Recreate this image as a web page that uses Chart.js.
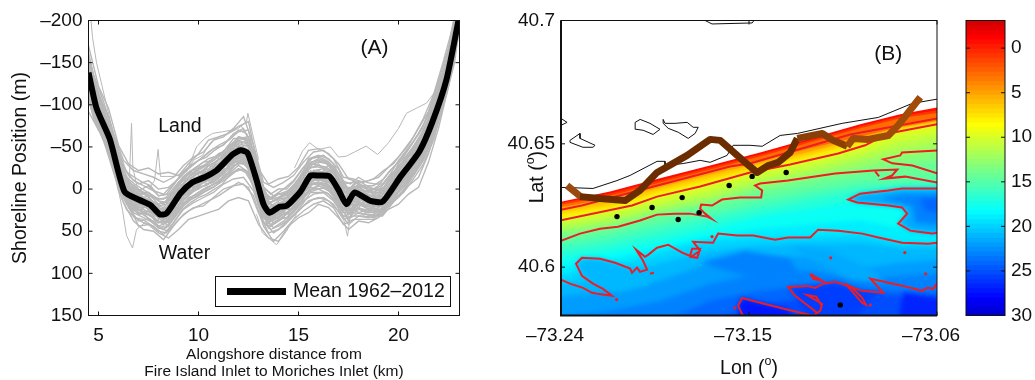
<!DOCTYPE html>
<html>
<head>
<meta charset="utf-8">
<title>Shoreline position and bathymetry</title>
<script src="https://cdn.jsdelivr.net/npm/chart.js@4/dist/chart.umd.min.js"></script>
<style>
  html, body { margin: 0; padding: 0; background: #fff; }
  canvas { position: absolute; top: 0; }
  #chartA { left: 0; }
  #chartB { left: 480px; }
  #chartC { left: 950px; }
</style>
</head>
<body>
<canvas id="chartA" width="480" height="380"></canvas>
<canvas id="chartB" width="490" height="380"></canvas>
<canvas id="chartC" width="85" height="380"></canvas>
<script>
// ---- panel A : shoreline position
const xTicksA = [5, 10, 15, 20]
const yTicksA = [-200, -150, -100, -50, 0, 50, 100, 150]

const meanX = [4.5,4.9,5.57,6.3,7.05,7.6,8.06,8.4,9.1,9.7,10.3,10.9,11.7,12.1,12.45,12.9,13.25,13.55,14.05,14.4,15.1,15.6,16,16.55,17,17.4,17.8,18.6,19.2,20.05,21.05,21.7,22.4,23]
const meanY = [-138,-96,-59,3,13,19,30,29,5,-8,-14,-22,-41,-46,-43,-11,18,28,21,20,3,-16,-16,-15,1,18,4,14,15,-13,-45,-80,-130,-200]

const greyXa = [4.5,5,5.5,6,6.5,7,7.5,8,8.5,9,9.5,10,10.5,11,11.5,12,12.5,13,13.5,14,14.5,15,15.5,16,16.5,17,17.5,18,18.5,19,19.5,20,20.5,21,21.5,22,22.5,23]
const greyLinesA = [
  [-170,-122,-96,-52,-30,-22,-25,-18,-20,-16,-30,-42,-58,-62,-66,-74,-80,-24,-6,-12,-15,-26,-46,-48,-42,-30,-12,-8,-10,-14,-26,-38,-52,-72,-92,-128,-168,-232],
  [-92,-70,-50,-14,18,44,42,52,58,48,36,32,28,24,14,10,14,42,58,62,44,34,28,18,22,34,48,38,40,34,24,18,6,-2,-32,-72,-122,-182],
  [-150,-108,-80,-36,-10,2,-4,8,6,-8,-18,-28,-36,-40,-50,-60,-62,-18,12,6,2,-12,-30,-36,-32,-18,0,-4,0,2,-14,-26,-42,-60,-82,-118,-154,-220],
  [-120,-84,-58,-22,10,28,30,38,40,24,14,8,0,-6,-14,-24,-18,16,44,38,28,18,4,0,6,20,34,24,28,26,14,2,-12,-30,-54,-92,-132,-196],
  [-142,-100,-70,-28,-2,8,12,18,14,0,-12,-20,-24,-34,-44,-54,-50,-12,22,14,10,-4,-24,-28,-22,-8,10,2,8,8,-4,-20,-34,-52,-74,-112,-148,-212],
  [-128,-90,-62,-18,8,22,22,30,34,14,4,-4,-12,-16,-26,-34,-28,4,36,30,22,12,-6,-8,-2,12,26,14,20,20,10,-6,-20,-38,-60,-98,-136,-200],
  [-158,-112,-86,-40,-16,-6,-10,0,-2,-12,-24,-34,-44,-52,-58,-68,-70,-14,18,10,6,-8,-36,-40,-36,-24,6,-2,4,-4,-20,-32,-48,-66,-88,-122,-160,-226],
  [-104,-76,-54,-10,22,38,36,46,50,36,26,20,14,8,0,-8,-2,28,52,48,36,26,14,10,14,26,42,32,34,30,20,10,-4,-14,-42,-82,-126,-188],
  [-136,-96,-66,-26,4,14,16,24,22,4,-6,-14,-22,-28,-40,-48,-44,-8,30,24,16,0,-18,-20,-18,-2,18,8,12,12,0,-14,-30,-46,-70,-108,-144,-208],
  [-146,-104,-72,-30,-6,6,4,12,10,-6,-14,-24,-30,-38,-46,-58,-54,-20,16,12,4,-10,-28,-32,-30,-12,4,0,6,6,-8,-22,-38,-56,-78,-114,-150,-214],
  [-114,-82,-56,-14,14,30,26,34,44,26,10,6,-2,-10,-18,-28,-20,12,40,34,26,14,2,-4,2,16,30,18,24,22,12,-2,-16,-34,-56,-94,-134,-198],
  [-130,-88,-64,-24,0,18,20,28,30,10,0,-8,-14,-20,-32,-40,-34,0,34,28,20,8,-10,-12,-8,6,22,12,16,18,6,-10,-24,-40,-64,-102,-140,-204]
]

const greyXb = [4.25,4.75,5.25,5.75,6.25,6.75,7.25,7.75,8.25,8.75,9.25,9.75,10.25,10.75,11.25,11.75,12.25,12.75,13.25,13.75,14.25,14.75,15.25,15.75,16.25,16.75,17.25,17.75,18.25,18.75,19.25,19.75,20.25,20.75,21.25,21.75,22.25,22.75,23.25]
const greyLinesB = [
  [-185,-136,-104,-66,-34,-22,-18,-14,-8,-14,-28,-38,-44,-58,-62,-72,-86,-52,-8,-2,-8,-16,-32,-44,-46,-36,-14,-12,-8,-12,-22,-30,-46,-62,-84,-112,-152,-196,-260],
  [-130,-84,-58,-20,16,38,48,50,60,44,30,22,20,10,0,-4,-6,8,44,62,50,36,26,18,14,22,42,36,36,36,26,14,4,-12,-30,-58,-100,-150,-220],
  [-170,-122,-90,-52,-20,-2,4,10,12,2,-14,-24,-32,-34,-44,-60,-60,-42,2,14,6,-4,-20,-30,-34,-22,-2,-2,2,4,-2,-20,-30,-50,-70,-96,-134,-182,-250],
  [-148,-100,-68,-30,2,22,28,34,42,28,14,2,-4,-8,-18,-28,-32,-14,28,40,32,22,8,-2,-4,6,24,22,24,26,18,6,-8,-24,-44,-72,-112,-160,-232],
  [-158,-108,-76,-44,-12,4,10,20,24,14,-4,-12,-18,-26,-36,-48,-50,-32,10,20,14,4,-10,-22,-24,-14,4,6,6,10,4,-10,-24,-42,-60,-88,-126,-174,-244],
  [-140,-94,-66,-26,6,28,34,40,48,36,20,10,4,-2,-12,-20,-24,-4,34,46,38,28,14,6,4,14,32,28,30,30,22,10,-2,-18,-38,-66,-106,-156,-226],
  [-176,-128,-96,-58,-26,-10,-4,2,6,-6,-20,-30,-38,-48,-52,-66,-72,-46,-2,8,0,-10,-26,-38,-40,-30,-6,-8,-4,-4,-12,-26,-38,-56,-76,-104,-142,-188,-254],
  [-152,-104,-72,-36,-4,14,20,28,36,22,6,-4,-10,-14,-26,-36,-38,-22,20,32,24,14,0,-10,-10,0,16,14,18,20,14,0,-14,-30,-50,-78,-118,-166,-236],
  [-164,-116,-82,-42,-14,8,12,18,26,10,-2,-16,-20,-22,-32,-52,-46,-30,12,22,16,8,-8,-18,-20,-10,8,4,10,12,6,-8,-20,-40,-58,-84,-124,-172,-242],
  [-122,-88,-62,-24,10,32,40,44,54,40,24,16,10,4,-6,-12,-14,2,38,52,44,32,20,12,10,18,36,32,32,34,24,12,2,-16,-34,-62,-102,-152,-222],
  [-144,-98,-70,-32,-2,18,24,30,32,20,8,0,-8,-12,-22,-32,-34,-18,24,28,26,16,4,-6,-6,2,20,18,20,22,16,2,-10,-28,-46,-74,-116,-164,-234]
]

const greyXc = [4.4,4.8,5.2,5.6,6,6.4,6.8,7.2,7.6,8,8.4,8.8,9.2,9.6,10,10.4,10.8,11.2,11.6,12,12.4,12.8,13.2,13.6,14,14.4,14.8,15.2,15.6,16,16.4,16.8,17.2,17.6,18,18.4,18.8,19.2,19.6,20,20.4,20.8,21.2,21.6,22,22.4,22.8,23.2]
const greyLinesC = [
  [-156,-118,-92,-62,-34,-8,-4,6,8,18,14,4,-10,-16,-22,-28,-30,-40,-50,-60,-58,-30,4,12,10,6,-2,-14,-30,-28,-26,-18,-2,2,-6,-2,0,0,-10,-26,-38,-52,-62,-88,-116,-140,-182,-245],
  [-132,-96,-68,-48,-12,12,20,28,30,44,40,28,14,4,0,-6,-10,-18,-32,-38,-30,-10,28,38,32,28,20,8,-6,-8,-6,2,24,26,16,22,26,26,12,-4,-16,-28,-40,-66,-96,-122,-160,-226],
  [-150,-112,-84,-52,-26,-2,4,18,16,26,36,10,8,-12,-6,-20,-16,-34,-36,-52,-48,-14,12,32,16,24,6,0,-22,-12,-20,-4,8,18,2,16,10,20,-2,-8,-30,-34,-54,-72,-110,-126,-176,-238],
  [-140,-100,-74,-60,-16,6,14,12,26,24,34,20,-2,-2,-16,-10,-26,-24,-44,-42,-38,-26,24,22,26,16,14,-6,-12,-20,-10,-12,16,10,10,6,18,10,8,-18,-20,-42,-46,-80,-100,-134,-164,-232],
  [-162,-124,-96,-70,-40,-14,-6,0,6,14,16,0,-14,-22,-24,-30,-38,-44,-52,-62,-60,-36,2,10,6,6,-4,-20,-32,-34,-30,-22,-4,0,-10,-4,0,2,-12,-30,-40,-52,-66,-92,-120,-146,-186,-250],
  [-126,-88,-64,-42,-4,18,26,30,36,46,46,30,18,10,4,-2,-6,-12,-22,-32,-28,-6,32,42,36,34,24,12,-2,0,-2,6,28,28,22,26,28,30,16,2,-10,-24,-36,-62,-90,-116,-156,-220],
  [-148,-106,-84,-58,-28,-4,8,10,14,26,24,12,-2,-10,-14,-20,-24,-34,-42,-50,-46,-24,12,24,18,14,6,-8,-20,-22,-18,-12,8,10,2,6,10,12,-2,-18,-28,-42,-52,-80,-108,-134,-172,-238],
  [-138,-102,-76,-50,-18,8,14,20,24,34,32,18,8,-2,-8,-12,-18,-24,-36,-42,-40,-16,22,32,24,24,14,2,-12,-12,-12,-4,16,18,10,14,18,18,6,-10,-22,-34,-48,-72,-102,-126,-166,-230],
  [-120,-84,-60,-38,2,24,34,36,42,50,52,38,24,16,10,6,0,-6,-18,-24,-22,0,38,48,44,38,30,18,4,4,4,12,32,34,28,30,32,32,20,8,-4,-18,-34,-58,-86,-112,-150,-216],
  [-172,-128,-102,-78,-46,-20,-14,-8,-4,8,6,-6,-20,-28,-34,-38,-46,-52,-60,-70,-66,-42,-4,6,0,0,-10,-24,-36,-38,-34,-26,-10,-6,-14,-8,-6,-6,-18,-34,-46,-58,-72,-98,-126,-150,-192,-256],
  [-154,-114,-90,-64,-30,-6,0,4,12,20,18,6,-6,-18,-18,-26,-32,-38,-50,-56,-54,-30,8,16,12,10,0,-12,-26,-26,-24,-18,2,4,-4,0,4,4,-8,-22,-36,-46,-60,-86,-114,-140,-178,-242],
  [-134,-94,-70,-46,-10,14,22,26,32,40,38,26,12,6,-2,-4,-12,-18,-30,-36,-34,-12,28,36,30,30,20,6,-6,-6,-4,2,22,24,16,20,24,24,12,-4,-14,-30,-42,-66,-94,-120,-160,-224]
]

const greyXd = [4.5,4.75,5,5.25,5.5,5.75,6,6.25,6.5,6.75,7,7.25,7.5,7.75,8,8.25,8.5,8.75,9,9.25,9.5,9.75,10,10.25,10.5,10.75,11,11.25,11.5,11.75,12,12.25,12.5,12.75,13,13.25,13.5,13.75,14,14.25,14.5,14.75,15,15.25,15.5,15.75,16,16.25,16.5,16.75,17,17.25,17.5,17.75,18,18.25,18.5,18.75,19,19.25,19.5,19.75,20,20.25,20.5,20.75,21,21.25,21.5,21.75,22,22.25,22.5,22.75,23]
const greyLinesD = [
  [-128,-100,-86,-70,-52,-34,-12,2,14,18,24,24,30,32,40,36,38,26,18,8,6,-2,-2,-8,-6,-14,-12,-24,-24,-36,-30,-38,-26,-16,8,24,40,34,34,26,30,18,14,4,-4,-6,-4,-10,-2,0,14,18,30,18,22,16,26,22,28,18,16,4,0,-10,-14,-28,-32,-46,-56,-74,-96,-114,-128,-160,-196],
  [-146,-118,-104,-82,-70,-50,-30,-12,-4,2,4,10,8,16,20,22,14,10,-4,-6,-12,-14,-20,-20,-28,-26,-36,-36,-48,-48,-58,-52,-52,-34,-18,6,18,14,12,8,8,0,-8,-12,-26,-26,-30,-24,-28,-18,-10,0,6,-2,-4,2,2,6,4,0,-10,-14,-24,-26,-38,-44,-58,-64,-76,-94,-114,-130,-150,-180,-214],
  [-138,-104,-96,-72,-66,-38,-24,0,2,12,8,22,14,30,26,38,22,24,2,8,-8,0,-16,-8,-22,-14,-30,-24,-42,-34,-52,-40,-46,-20,-12,20,22,34,16,28,12,18,-2,2,-20,-10,-22,-10,-22,-2,-4,16,10,14,2,16,8,22,10,16,-2,2,-18,-12,-34,-30,-52,-48,-72,-78,-112,-116,-146,-164,-210],
  [-132,-112,-88,-80,-58,-46,-16,-8,10,4,18,12,26,18,36,26,34,12,14,-4,4,-12,-4,-20,-10,-26,-16,-36,-28,-46,-38,-50,-34,-30,2,10,34,20,28,14,24,4,10,-10,-8,-22,-10,-22,-8,-14,8,4,22,2,14,4,20,10,22,4,10,-10,-6,-24,-20,-42,-38,-62,-60,-90,-98,-128,-134,-176,-200],
  [-150,-124,-108,-90,-74,-56,-34,-16,-8,-4,0,4,4,10,14,18,10,4,-8,-12,-18,-20,-26,-28,-32,-36,-42,-44,-52,-54,-62,-60,-58,-40,-22,-2,12,10,6,6,2,-4,-12,-18,-30,-32,-34,-32,-32,-24,-14,-4,2,-6,-8,-2,-2,0,-2,-6,-14,-20,-28,-32,-42,-48,-60,-70,-80,-98,-118,-136,-154,-184,-218],
  [-120,-94,-80,-64,-50,-30,-8,8,18,24,30,28,36,38,46,44,44,34,24,16,14,8,4,0,-2,-6,-8,-16,-20,-28,-30,-30,-24,-10,14,30,46,42,38,34,34,26,20,12,2,0,0,-2,0,8,18,26,38,24,28,26,32,30,32,26,20,12,4,-2,-10,-20,-30,-40,-50,-68,-90,-108,-124,-156,-190],
  [-142,-110,-98,-78,-64,-44,-26,-6,0,6,10,14,16,20,28,26,24,14,2,-2,-6,-10,-14,-18,-22,-24,-30,-34,-40,-46,-50,-48,-44,-28,-10,10,24,22,18,16,14,6,-2,-8,-18,-20,-20,-20,-20,-12,-2,6,12,4,2,6,10,12,10,6,-2,-8,-16,-22,-30,-40,-50,-58,-70,-88,-108,-126,-144,-174,-208],
  [-126,-102,-84,-68,-56,-36,-14,4,12,14,20,20,24,30,34,34,32,24,12,8,2,0,-6,-10,-12,-16,-18,-26,-30,-36,-40,-40,-36,-20,2,18,36,30,26,24,24,14,8,0,-8,-10,-12,-10,-8,-4,8,14,22,12,12,14,18,20,20,14,8,-2,-8,-14,-22,-32,-40,-50,-62,-80,-102,-118,-136,-166,-202]
]

// odd single years that stick out of the band
const outlierX = [
  [4.55,4.7,4.9,5.2,5.6,6,6.5],
  [6.3,6.55,6.65,6.72,7,7.5],
  [5.9,6.2,6.4,6.7,6.9,7.3,7.8],
  [7.5,7.8,7.98,8.1,8.4,8.8,9.3,9.8,10.2,10.6,11,11.5,12,12.4,12.47,12.7,13],
  [9.4,9.9,10.3,10.7,11.2,11.7,12.1,12.5],
  [14.8,15.2,15.55,16,16.6,17,17.38,17.8,18.38,18.96,19.5,20,20.4,20.9,21.4,21.9,22.4],
  [12.9,13.2,13.6,13.9,14.4,14.9],
  [17,17.25,17.45,17.6,18]
]
const outlierY = [
  [-220,-180,-150,-120,-80,-40,-5],
  [5,-15,-78,-25,5,15],
  [-10,25,55,70,48,40,45],
  [0,-10,-47,-15,-15,-15,-20,-35,-40,-55,-62,-66,-72,-80,-90,-66,-35],
  [-20,-50,-60,-66,-68,-70,-76,-62],
  [-25,-45,-55,-47,-50,-38,-39,-44,-51,-41,-55,-72,-90,-96,-102,-118,-138],
  [30,52,60,66,50,30],
  [22,35,56,30,22]
]

// ---- panel B : bathymetry map
const xTicksB = [-73.24, -73.15, -73.06]
const yTicksB = [40.6, 40.65, 40.7]

// the end columns sit just outside the frame so the soft edges stay hidden
const isobathLons = [-73.246,-73.2165,-73.1926,-73.1686,-73.1447,-73.1207,-73.0968,-73.0776,-73.054]
const isobathFloor = 40.55
const isobathDepths = [-1,1,3,5,6,8,10,11,12,13,14,15,16,17,18,19,20,21,22,23,24,25]
const isobathLats = [
  [40.6254,40.6307,40.6360,40.6412,40.6465,40.6522,40.6579,40.6620,40.6656],
  [40.6250,40.6299,40.6351,40.6404,40.6457,40.6514,40.6571,40.6612,40.6644],
  [40.6244,40.6290,40.6343,40.6396,40.6449,40.6506,40.6563,40.6604,40.6632],
  [40.6234,40.6280,40.6331,40.6388,40.6431,40.6482,40.6530,40.6567,40.6603],
  [40.6225,40.6270,40.6323,40.6376,40.6421,40.6469,40.6522,40.6563,40.6599],
  [40.6213,40.6250,40.6311,40.6360,40.6409,40.6457,40.6510,40.6559,40.6591],
  [40.6193,40.6229,40.6290,40.6339,40.6392,40.6437,40.6490,40.6551,40.6579],
  [40.6172,40.6209,40.6262,40.6311,40.6368,40.6412,40.6461,40.6514,40.6546],
  [40.6152,40.6189,40.6242,40.6286,40.6347,40.6388,40.6437,40.6481,40.6514],
  [40.6136,40.6172,40.6225,40.6266,40.6327,40.6368,40.6408,40.6449,40.6481],
  [40.6120,40.6160,40.6213,40.6254,40.6311,40.6351,40.6384,40.6412,40.6441],
  [40.6103,40.6144,40.6197,40.6237,40.6286,40.6327,40.6359,40.6368,40.6384],
  [40.6083,40.6124,40.6172,40.6213,40.6262,40.6303,40.6335,40.6339,40.6351],
  [40.6059,40.6095,40.6140,40.6189,40.6233,40.6274,40.6311,40.6327,40.6335],
  [40.6026,40.6067,40.6107,40.6156,40.6205,40.6237,40.6270,40.6270,40.6270],
  [40.5994,40.6034,40.6079,40.6124,40.6156,40.6173,40.6189,40.6156,40.6148],
  [40.5961,40.6002,40.6059,40.6107,40.6120,40.6124,40.6136,40.6099,40.6099],
  [40.5924,40.5965,40.6018,40.6067,40.6087,40.6095,40.6099,40.6079,40.6079],
  [40.5876,40.5904,40.5945,40.6018,40.6034,40.6046,40.5994,40.6018,40.6034],
  [40.5790,40.5823,40.5863,40.5932,40.5977,40.5985,40.5945,40.5965,40.5977],
  [40.5741,40.5741,40.5774,40.5863,40.5904,40.5924,40.5904,40.5904,40.5904],
  [40.5701,40.5701,40.5701,40.5782,40.5851,40.5876,40.5896,40.5884,40.5863]
]

// closed areas that do not fit the isobath layers: depth, then outline
const patchDepths = [21.5,23,24,21,21.3,23,26.5,25.5,27]
const patchOutlines = [
  [[-73.05,40.6319],[-73.0767,40.6319],[-73.0833,40.6311],[-73.0968,40.6298],[-73.1025,40.6274],[-73.0982,40.6262],[-73.0833,40.6250],[-73.0767,40.6242],[-73.0743,40.6217],[-73.0776,40.6185],[-73.0786,40.6177],[-73.0728,40.6148],[-73.069,40.6144],[-73.0623,40.6136],[-73.05,40.6140]],
  [[-73.0871,40.6278],[-73.0752,40.6294],[-73.05,40.6294],[-73.05,40.6165],[-73.0704,40.6181],[-73.0718,40.6250]],
  [[-73.0680,40.6278],[-73.05,40.6282],[-73.05,40.6209],[-73.0656,40.6229]],
  [[-73.23,40.5965],[-73.2314,40.5990],[-73.2328,40.6014],[-73.23,40.6038],[-73.2213,40.6034],[-73.2141,40.6018],[-73.2069,40.5994],[-73.1988,40.5990],[-73.1974,40.5930],[-73.2117,40.5900],[-73.2199,40.5912]],
  [[-73.1303,40.6087],[-73.1112,40.6067],[-73.0919,40.5994],[-73.0847,40.5937],[-73.1016,40.5953],[-73.1207,40.6034]],
  [[-73.1734,40.6018],[-73.1519,40.6067],[-73.1303,40.6034],[-73.1255,40.5965],[-73.1447,40.5945]],
  [[-73.0762,40.5896],[-73.05,40.5863],[-73.05,40.57],[-73.08,40.57]],
  [[-73.1279,40.5884],[-73.1313,40.5920],[-73.1222,40.5924],[-73.1145,40.5933],[-73.1087,40.5941],[-73.0958,40.5904],[-73.0857,40.5896],[-73.0919,40.5875],[-73.0958,40.5830],[-73.1016,40.57],[-73.1159,40.57]],
  [[-73.1529,40.57],[-73.1552,40.5843],[-73.1533,40.5875],[-73.1423,40.5851],[-73.1313,40.5827],[-73.1193,40.57]]
]

// red contour lines
const contourLines = [
  [[-73.24,40.6233],[-73.23,40.6250],[-73.1974,40.6323],[-73.1591,40.6408],[-73.1495,40.6420],[-73.1016,40.6538],[-73.06,40.6603]],
  [[-73.24,40.6190],[-73.206,40.6250],[-73.194,40.6286],[-73.1734,40.6327],[-73.1495,40.6384],[-73.1303,40.6416],[-73.1073,40.6461],[-73.0944,40.6494],[-73.0833,40.6542],[-73.06,40.6579]],
  [[-73.24,40.6107],[-73.2309,40.6136],[-73.2213,40.6156],[-73.2127,40.6164],[-73.2022,40.6189],[-73.194,40.6213],[-73.1854,40.6217],[-73.1782,40.6217],[-73.17,40.6205],[-73.1681,40.6197],[-73.171,40.6217],[-73.1734,40.6237],[-73.1729,40.6254],[-73.1677,40.6250],[-73.1629,40.6274],[-73.1543,40.6282],[-73.1442,40.6282],[-73.1437,40.6311],[-73.1471,40.6331],[-73.1447,40.6339],[-73.1313,40.6351],[-73.1087,40.6380],[-73.0905,40.6392],[-73.079,40.6396],[-73.0815,40.6372],[-73.0853,40.6359],[-73.0752,40.6367],[-73.06,40.6343]],
  [[-73.0896,40.6388],[-73.0877,40.6368]],
  [[-73.06,40.6473],[-73.0767,40.6465],[-73.0776,40.6453],[-73.0857,40.6437],[-73.0814,40.6421],[-73.0718,40.6412],[-73.06,40.6381]],
  [[-73.06,40.6319],[-73.0767,40.6319],[-73.0833,40.6311],[-73.0968,40.6298],[-73.1025,40.6274],[-73.0982,40.6262],[-73.0833,40.6250],[-73.0767,40.6242],[-73.0743,40.6217],[-73.0776,40.6185],[-73.0786,40.6177],[-73.0728,40.6148],[-73.069,40.6144],[-73.0623,40.6136],[-73.06,40.6140]],
  [[-73.24,40.5949],[-73.2357,40.5933],[-73.2295,40.5916],[-73.2251,40.5896],[-73.2227,40.5892],[-73.2156,40.5884],[-73.2199,40.5912],[-73.2247,40.5933],[-73.23,40.5965],[-73.2314,40.5990],[-73.2328,40.6014],[-73.23,40.6038],[-73.2213,40.6034],[-73.2141,40.6018],[-73.2069,40.5994],[-73.206,40.5977],[-73.2036,40.5998],[-73.2022,40.5981],[-73.1988,40.5990],[-73.2007,40.6026],[-73.2041,40.6071],[-73.1998,40.6042],[-73.1983,40.6050],[-73.194,40.6079],[-73.1887,40.6091],[-73.182,40.6059],[-73.1782,40.6046],[-73.1772,40.6075],[-73.1734,40.6075],[-73.1748,40.6038],[-73.1777,40.6042],[-73.1734,40.6067],[-73.1767,40.6103],[-73.1672,40.6099],[-73.1648,40.6136],[-73.1557,40.6128],[-73.148,40.6128],[-73.1375,40.6111],[-73.1313,40.6120],[-73.1207,40.6120],[-73.1169,40.6152],[-73.1073,40.6148],[-73.0958,40.6136],[-73.0881,40.6120],[-73.0767,40.6099],[-73.0642,40.6095],[-73.06,40.6099]],
  [[-73.1529,40.5803],[-73.1552,40.5843],[-73.1533,40.5875],[-73.1423,40.5851],[-73.1313,40.5827],[-73.1193,40.5803],[-73.1159,40.5823],[-73.115,40.5851],[-73.1222,40.5887],[-73.1178,40.5880],[-73.115,40.5840]],
  [[-73.1174,40.5815],[-73.1279,40.5884],[-73.1313,40.5920],[-73.1222,40.5924],[-73.1183,40.5916],[-73.1145,40.5933],[-73.1087,40.5941],[-73.1029,40.5925],[-73.0958,40.5904],[-73.0857,40.5896],[-73.0919,40.5953],[-73.0767,40.5925],[-73.0671,40.5904],[-73.0647,40.5916],[-73.0618,40.5912],[-73.06,40.5933]],
  [[-73.1039,40.5933],[-73.0958,40.5855],[-73.094,40.5847],[-73.0958,40.5876],[-73.1006,40.5916],[-73.1039,40.5933]],
  [[-73.1207,40.5973],[-73.115,40.5945],[-73.1193,40.5953],[-73.1207,40.5973]],
  [[-73.1974,40.5973],[-73.1955,40.5977]]
]
const contourSpots = [[-73.2134,40.5868],[-73.1677,40.6124],[-73.1568,40.5835],[-73.1109,40.6038],[-73.0754,40.6059],[-73.0654,40.5973],[-73.0919,40.5847]]

// black shoreline and islands
const shoreLines = [
  [[-73.24,40.6323],[-73.2371,40.6323],[-73.2247,40.6319],[-73.2132,40.6351],[-73.2069,40.6372],[-73.194,40.6429],[-73.1902,40.6429],[-73.1902,40.6412],[-73.1815,40.6420],[-73.1734,40.6433],[-73.1686,40.6425],[-73.1605,40.6453],[-73.1576,40.6494],[-73.1495,40.6494],[-73.1437,40.6490],[-73.1351,40.6534],[-73.1269,40.6542],[-73.1054,40.6583],[-73.0881,40.6607],[-73.0718,40.6664],[-73.06,40.6681]],
  [[-73.2045,40.6587],[-73.2021,40.6599],[-73.1974,40.6583],[-73.1926,40.6559],[-73.1959,40.6538],[-73.2007,40.6555],[-73.2041,40.6559],[-73.2045,40.6587]],
  [[-73.1911,40.6599],[-73.1902,40.6583],[-73.1854,40.6583],[-73.1796,40.6587],[-73.1767,40.6567],[-73.1743,40.6567],[-73.1758,40.6542],[-73.1791,40.6522],[-73.1839,40.6547],[-73.1887,40.6563],[-73.1911,40.6583],[-73.1911,40.6599]],
  [[-73.2357,40.6514],[-73.2309,40.6542],[-73.2309,40.6522],[-73.2237,40.6494],[-73.2247,40.6486],[-73.2295,40.6486],[-73.2357,40.6506],[-73.2357,40.6514]],
  [[-73.24,40.6603],[-73.2371,40.6587],[-73.24,40.6575]],
  [[-73.171,40.7],[-73.1677,40.6986],[-73.1485,40.699],[-73.1476,40.7]]
]

// brown mean shoreline, darker to the west
const brownLines = [
  [[-73.2371,40.6331],[-73.23,40.6282]],
  [[-73.2309,40.6286],[-73.2213,40.6278],[-73.2093,40.6270],[-73.2022,40.6311],[-73.194,40.6384],[-73.1796,40.6453],[-73.1686,40.6518],[-73.1638,40.6514],[-73.1495,40.6408],[-73.1461,40.6384],[-73.1408,40.6412],[-73.136,40.6425],[-73.1303,40.6465],[-73.1269,40.6522]],
  [[-73.1269,40.6522],[-73.1149,40.6542],[-73.1097,40.6514],[-73.103,40.649]],
  [[-73.103,40.649],[-73.1001,40.6522],[-73.0929,40.6518],[-73.0833,40.6534],[-73.0786,40.6575],[-73.068,40.6689]]
]
const brownColors = ['#984a10', '#6b2d00', '#8a3f06', '#a04c08']

const stationPoints = [[-73.2132,40.6205],[-73.1964,40.6242],[-73.182,40.6282],[-73.1595,40.6331],[-73.1485,40.6368],[-73.1322,40.6384],[-73.1839,40.6193],[-73.1739,40.6221],[-73.1063,40.5847]]

// ---- colour bar
const depthTop = -3.1
const depthBottom = 30
const depthLevels = 64
const jetAtTop = 0.915
const jetAtBottom = 0.08
const colorbarTicks = [0, 5, 10, 15, 20, 25, 30]

const FONT = 'Liberation Sans, Arial, sans-serif'

function jetColor(t) {
  const c = v => Math.round(255 * Math.max(0, Math.min(1, v)))
  return `rgb(${c(1.5 - Math.abs(4 * t - 3))},${c(1.5 - Math.abs(4 * t - 2))},${c(1.5 - Math.abs(4 * t - 1))})`
}
// level 0 is the shallow end of the bar
function levelColor(i) {
  return jetColor(jetAtTop - (jetAtTop - jetAtBottom) * i / (depthLevels - 1))
}
function depthColor(d) {
  const i = Math.floor((d - depthTop) / (depthBottom - depthTop) * depthLevels)
  return levelColor(Math.max(0, Math.min(depthLevels - 1, i)))
}

const tickLabel = v => String(v).replace('-', '\u2013')
const fixedTicks = values => scale => { scale.ticks = values.map(v => ({ value: v })) }

function frame(chart, leftWidth) {
  const { ctx, chartArea: a, scales } = chart
  ctx.save()
  ctx.strokeStyle = '#111'
  ctx.lineWidth = 1
  ctx.beginPath()
  for (const id in scales) {
    const s = scales[id]
    if (s.options.display === false) continue
    s.ticks.forEach(t => {
      const p = s.getPixelForValue(t.value)
      if (s.isHorizontal()) {
        ctx.moveTo(p, a.bottom); ctx.lineTo(p, a.bottom - 4)
        ctx.moveTo(p, a.top); ctx.lineTo(p, a.top + 4)
      } else {
        ctx.moveTo(a.left, p); ctx.lineTo(a.left + 4, p)
        ctx.moveTo(a.right, p); ctx.lineTo(a.right - 4, p)
      }
    })
  }
  ctx.stroke()
  ctx.strokeRect(a.left, a.top, a.right - a.left, a.bottom - a.top)
  if (leftWidth > 1) {
    ctx.lineWidth = leftWidth
    ctx.beginPath()
    ctx.moveTo(a.left, a.top); ctx.lineTo(a.left, a.bottom); ctx.lineTo(a.right, a.bottom)
    ctx.stroke()
  }
  ctx.restore()
}

function note(ctx, text, x, y, size) {
  ctx.save()
  ctx.font = `${size}px ${FONT}`
  ctx.fillStyle = '#111'
  ctx.textAlign = 'center'
  ctx.textBaseline = 'middle'
  ctx.fillText(text, x, y)
  ctx.restore()
}

// axis title with the raised "o" of degrees
function degreeTitle(ctx, word, x, y, rotation) {
  ctx.save()
  ctx.translate(x, y)
  ctx.rotate(rotation)
  ctx.fillStyle = '#111'
  ctx.textBaseline = 'alphabetic'
  ctx.textAlign = 'left'
  ctx.font = `19.5px ${FONT}`
  const head = word + ' ('
  const w1 = ctx.measureText(head).width
  const w3 = ctx.measureText(')').width
  ctx.font = `12.5px ${FONT}`
  const w2 = ctx.measureText('o').width
  let cx = -(w1 + w2 + w3) / 2
  ctx.font = `19.5px ${FONT}`
  ctx.fillText(head, cx, 7)
  ctx.fillText(')', cx + w1 + w2, 7)
  ctx.font = `12.5px ${FONT}`
  ctx.fillText('o', cx + w1, -2)
  ctx.restore()
}

// ---- panel A
const datasetsA = []
const grey = { showLine: true, borderColor: '#b8b8b8', borderWidth: 1.4, pointRadius: 0, tension: 0 }
const addGrey = (lines, xs) => lines.forEach(ys => datasetsA.push({ ...grey, data: ys.map((y, i) => ({ x: xs[i], y })), order: 3 }))
addGrey(greyLinesA, greyXa)
addGrey(greyLinesB, greyXb)
addGrey(greyLinesC, greyXc)
addGrey(greyLinesD, greyXd)
outlierY.forEach((ys, k) => datasetsA.push({ ...grey, borderWidth: 1, data: ys.map((y, i) => ({ x: outlierX[k][i], y })), order: 3 }))
datasetsA.push({
  showLine: true, borderColor: '#000', borderWidth: 6, pointRadius: 0, tension: 0.2,
  borderJoinStyle: 'round', order: 1,
  data: meanY.map((y, i) => ({ x: meanX[i], y }))
})

new Chart(document.getElementById('chartA'), {
  type: 'scatter',
  data: { datasets: datasetsA },
  options: {
    responsive: false,
    animation: false,
    events: [],
    layout: { autoPadding: false, padding: { top: 20.5, right: 20.5, left: 0, bottom: 0 } },
    plugins: { legend: { display: false }, tooltip: { enabled: false } },
    scales: {
      x: {
        type: 'linear', min: 4.5, max: 23.05,
        grid: { display: false, drawTicks: false }, border: { display: false },
        afterBuildTicks: fixedTicks(xTicksA),
        afterFit: s => { s.height = 64.5; s.paddingLeft = 0; s.paddingRight = 0 },
        ticks: { color: '#111', font: { family: FONT, size: 19 }, padding: 9, maxRotation: 0, autoSkip: false, callback: tickLabel },
        title: {
          display: true, color: '#111', font: { family: FONT, size: 15.5, lineHeight: 1.1 },
          text: ['Alongshore distance from', 'Fire Island Inlet to Moriches Inlet (km)'],
          padding: { top: 0, bottom: 0 }
        }
      },
      y: {
        type: 'linear', reverse: true, min: -200, max: 150,
        grid: { display: false, drawTicks: false }, border: { display: false },
        afterBuildTicks: fixedTicks(yTicksA),
        afterFit: s => { s.width = 88.5 },
        ticks: { color: '#111', font: { family: FONT, size: 19 }, padding: 6, autoSkip: false, callback: tickLabel },
        title: {
          display: true, color: '#111', font: { family: FONT, size: 19.5 },
          text: 'Shoreline Position (m)', padding: { top: 9, bottom: 0 }
        }
      }
    }
  },
  plugins: [{
    id: 'notesA',
    afterDatasetsDraw(chart) {
      const ctx = chart.ctx
      frame(chart, 1)
      const xs = chart.scales.x, ys = chart.scales.y
      note(ctx, '(A)', xs.getPixelForValue(18.8), ys.getPixelForValue(-167), 21)
      note(ctx, 'Land', xs.getPixelForValue(9.07), ys.getPixelForValue(-74), 19.5)
      note(ctx, 'Water', xs.getPixelForValue(9.3), ys.getPixelForValue(76), 19.5)
      // legend box
      ctx.save()
      ctx.fillStyle = '#fff'
      ctx.strokeStyle = '#111'
      ctx.lineWidth = 1
      ctx.fillRect(215, 276, 235, 30)
      ctx.strokeRect(215.5, 276.5, 235, 30)
      ctx.fillStyle = '#000'
      ctx.fillRect(227, 288, 59, 7)
      ctx.font = `19.5px ${FONT}`
      ctx.fillStyle = '#111'
      ctx.textBaseline = 'middle'
      ctx.fillText('Mean 1962\u20132012', 293, 292)
      ctx.restore()
    }
  }]
})

// ---- panel B
const datasetsB = []
let orderB = 1000
const line = (pairs, extra) => ({ showLine: true, pointRadius: 0, tension: 0, fill: false, order: orderB--, data: pairs.map(p => ({ x: p[0], y: p[1] })), ...extra })

isobathLats.forEach((lats, i) => {
  const edge = lats.map((la, k) => [isobathLons[k], la])
  const last = isobathLons[isobathLons.length - 1]
  const outline = edge.concat([[last, isobathFloor], [isobathLons[0], isobathFloor], edge[0]])
  datasetsB.push(line(outline, { borderWidth: 0, fill: 'shape', backgroundColor: depthColor(isobathDepths[i]) }))
})
patchOutlines.forEach((outline, i) => {
  datasetsB.push(line(outline.concat([outline[0]]), {
    borderWidth: 0, fill: 'shape', backgroundColor: depthColor(patchDepths[i])
  }))
})
// layers from the 8 m isobath up to the last patch get a soft edge
const softFrom = isobathDepths.indexOf(8)
const softTo = isobathLats.length + patchOutlines.length - 1
contourLines.forEach(pairs => datasetsB.push(line(pairs, { borderColor: '#ee1c25', borderWidth: 2 })))
datasetsB.push({ order: orderB--, showLine: false, pointRadius: 1.6, pointBackgroundColor: '#ee1c25', pointBorderWidth: 0, data: contourSpots.map(p => ({ x: p[0], y: p[1] })) })
shoreLines.forEach(pairs => datasetsB.push(line(pairs, { borderColor: '#111', borderWidth: 1 })))
brownLines.forEach((pairs, i) => datasetsB.push(line(pairs, { borderColor: brownColors[i], borderWidth: 7, borderJoinStyle: 'round' })))
datasetsB.push({ order: orderB--, showLine: false, pointRadius: 2.7, pointBackgroundColor: '#000', pointBorderWidth: 0, data: stationPoints.map(p => ({ x: p[0], y: p[1] })) })

new Chart(document.getElementById('chartB'), {
  type: 'scatter',
  data: { datasets: datasetsB },
  options: {
    responsive: false,
    animation: false,
    events: [],
    layout: { autoPadding: false, padding: { top: 20.5, right: 33, left: 0, bottom: 0 } },
    plugins: { legend: { display: false }, tooltip: { enabled: false } },
    scales: {
      x: {
        type: 'linear', min: -73.24, max: -73.06,
        grid: { display: false, drawTicks: false }, border: { display: false },
        afterBuildTicks: fixedTicks(xTicksB),
        afterFit: s => { s.height = 64.5; s.paddingLeft = 0; s.paddingRight = 0 },
        ticks: { color: '#111', font: { family: FONT, size: 19 }, padding: 9, labelOffset: -6, maxRotation: 0, autoSkip: false, callback: tickLabel }
      },
      y: {
        type: 'linear', min: 40.5804, max: 40.7,
        grid: { display: false, drawTicks: false }, border: { display: false },
        afterBuildTicks: fixedTicks(yTicksB),
        afterFit: s => { s.width = 81 },
        ticks: { color: '#111', font: { family: FONT, size: 19 }, padding: 6, autoSkip: false, callback: tickLabel }
      }
    }
  },
  plugins: [{
    id: 'notesB',
    // the filler paints a layer before this hook runs, so the index here sets up the next layer
    afterDatasetDraw(chart, args) {
      const next = args.index + 1
      chart.ctx.filter = (next >= softFrom && next <= softTo) ? 'blur(2.5px)' : 'none'
    },
    afterDatasetsDraw(chart) {
      const ctx = chart.ctx
      ctx.filter = 'none'
      frame(chart, 2)
      const xs = chart.scales.x, ys = chart.scales.y
      note(ctx, '(B)', xs.getPixelForValue(-73.0833), ys.getPixelForValue(40.6862), 21)
      degreeTitle(ctx, 'Lon', xs.getPixelForValue(-73.15), 367, 0)
      degreeTitle(ctx, 'Lat', 56, ys.getPixelForValue(40.6365), -Math.PI / 2)
    }
  }]
})

// ---- colour bar
const barDatasets = []
for (let i = 0; i < depthLevels; i++) {
  const step = (depthBottom - depthTop) / depthLevels
  barDatasets.push({
    data: [[depthTop + i * step, depthTop + (i + 1) * step + 0.02]],
    backgroundColor: levelColor(i),
    borderWidth: 0, barPercentage: 1, categoryPercentage: 1
  })
}

new Chart(document.getElementById('chartC'), {
  type: 'bar',
  data: { labels: ['depth'], datasets: barDatasets },
  options: {
    responsive: false,
    animation: false,
    events: [],
    layout: { autoPadding: false, padding: { top: 20.5, left: 16, right: 0, bottom: 64.5 } },
    plugins: { legend: { display: false }, tooltip: { enabled: false } },
    scales: {
      x: { display: false, stacked: true },
      y: {
        type: 'linear', position: 'right', reverse: true, min: depthTop, max: depthBottom,
        grid: { display: false, drawTicks: false }, border: { display: false },
        afterBuildTicks: fixedTicks(colorbarTicks),
        afterFit: s => { s.width = 30 },
        ticks: { color: '#111', font: { family: FONT, size: 19 }, padding: 6, autoSkip: false, callback: tickLabel }
      }
    }
  },
  plugins: [{ id: 'frameC', afterDatasetsDraw(chart) { frame(chart, 1) } }]
})
</script>
</body>
</html>
